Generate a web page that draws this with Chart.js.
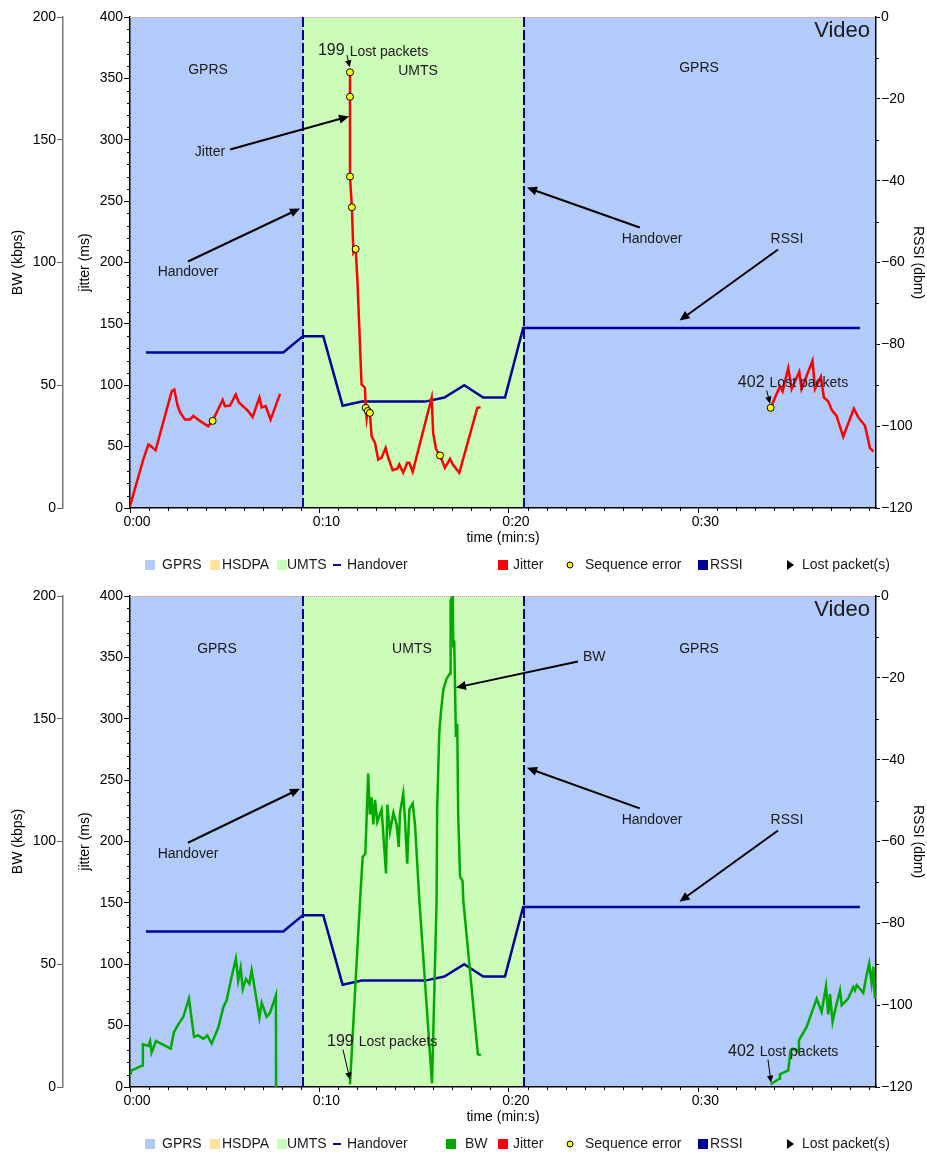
<!DOCTYPE html>
<html><head><meta charset="utf-8">
<script src="https://cdn.jsdelivr.net/npm/chart.js@4.4.1/dist/chart.umd.min.js"></script>
<style>html,body{margin:0;padding:0;background:#fff;}canvas{display:block;}</style>
</head><body>
<canvas id="topChart" width="927" height="579"></canvas>
<canvas id="bottomChart" width="927" height="578"></canvas>
<script>
// ---------------- DATA ----------------
const xTickValues = [0, 10, 20, 30];
const xTickLabels = ['0:00', '0:10', '0:20', '0:30'];
const timeMax = 39.37;

const regionStart = [0, 9.13, 20.79];
const regionEnd = [9.13, 20.79, 39.37];
const regionType = ['GPRS', 'UMTS', 'GPRS'];
const handoverTimes = [9.13, 20.79];

const rssiTime = [0.84, 8.09, 9.13, 10.2, 11.22, 12.23, 15.57, 16.59, 17.64, 18.64, 19.79, 20.75, 38.52];
const rssiDbm  = [-82, -82, -78, -78, -95, -94, -94, -93, -90, -93, -93, -76, -76];

const jitterTime = [0.0, 0.7, 0.97, 1.14, 1.35, 2.2, 2.34, 2.5, 2.64, 2.9, 3.17, 3.34, 3.69, 4.13, 4.36, 4.89, 5.01, 5.28, 5.58, 5.75, 6.24, 6.47, 6.83, 6.95, 7.16, 7.42, 7.92,
  9.0,
  11.61, 11.61, 11.61, 11.71, 11.79, 11.91, 12.0, 12.14, 12.22, 12.4, 12.44, 12.49, 12.55, 12.66, 12.75, 12.93, 13.1, 13.28, 13.49, 13.63, 13.86, 14.11, 14.21, 14.42, 14.63, 14.74, 14.92, 15.92, 16.0, 16.15, 16.36, 16.62, 16.89, 17.03, 17.38, 18.33, 18.5,
  25.0,
  33.81, 34.3, 34.44, 34.74, 34.92, 35.32, 35.44, 36.02, 36.15, 36.46, 36.62, 36.85, 37.03, 37.29, 37.64, 38.2, 38.43, 38.79, 39.05, 39.23];
const jitterMs = [1.5, 39.5, 51.7, 50, 47, 95, 96.5, 84, 78, 72, 72, 75, 71, 66.6, 71, 88, 83, 83.5, 92.5, 86, 79, 74, 90, 82, 83, 72, 93,
  null,
  355, 335, 270, 245, 208, 211, 186, 132, 100.6, 98, 81.6, 73, 80, 77.5, 58.5, 53, 39.5, 41, 49, 41, 30.8, 32, 35.4, 28.7, 36.8, 36.8, 29.5, 89.8, 61, 48, 42.8, 32.7, 40, 35.6, 28.7, 81.6, 82,
  null,
  81.6, 99, 95, 114, 97, 111, 97, 120, 97, 107, 90, 87, 80, 75, 58, 81, 74, 67, 49, 46];

const seqErrTime = [4.36, 11.61, 11.61, 11.61, 11.71, 11.91, 12.44, 12.55, 12.66, 16.36, 33.81];
const seqErrMs   = [71, 355, 335, 270, 245, 211, 81.6, 79, 77.5, 42.8, 81.6];

const bwTime = [0, 0.09, 0.67, 0.68, 0.97, 1.06, 1.14, 1.37, 2.15, 2.32, 2.55, 2.81, 3.11, 3.38, 3.6, 3.87, 4.08, 4.31, 4.66, 4.93, 5.1, 5.36, 5.59, 5.71, 5.84, 5.95, 6.12, 6.3, 6.42, 6.54, 6.83, 6.95, 7.21, 7.39, 7.7, 7.71,
  9.5,
  11.61, 12.14, 12.28, 12.42, 12.57, 12.66, 12.75, 12.84, 12.93, 13.05, 13.28, 13.51, 13.58, 13.72, 13.9, 14.07, 14.18, 14.25, 14.42, 14.51, 14.63, 14.74, 14.92, 15.04, 15.27, 15.94, 16.18, 16.21, 16.32, 16.4, 16.53, 16.71, 16.89, 16.92, 17.03, 17.06, 17.11, 17.2, 17.27, 17.32, 17.42, 17.55, 17.59, 18.36, 18.52,
  25.0,
  33.81, 34.27, 34.3, 34.74, 34.86, 35.0, 35.27, 35.3, 35.71, 36.24, 36.5, 36.73, 36.85, 36.94, 37.08, 37.2, 37.47, 37.56, 37.9, 38.17, 38.26, 38.35, 38.52, 38.7, 38.82, 39.01, 39.14, 39.23, 39.31];
const bwKbps = [4.8, 6.8, 8.8, 17.4, 16.7, 18.7, 14, 18.7, 15.6, 22.4, 25.5, 28.5, 36, 20.4, 21, 19.6, 21, 17.7, 24.2, 32.6, 35.3, 44.8, 52.3, 43.3, 48.5, 39.9, 44, 42, 47.5, 42, 28.3, 34.3, 28.6, 30.2, 37.4, 0,
  null,
  1, 76, 93.7, 95, 127.7, 111, 118, 107, 117, 108, 113, 87, 115, 104, 111.7, 107, 97.8, 111.7, 119.5, 109, 91, 113, 115.5, 107, 76, 1.5, 76, 112.7, 144, 152, 161.6, 166.4, 168.4, 198.3, 200, 179, 182, 142.6, 148, 111, 85.6, 84, 76, 13.3, 13,
  null,
  1.1, 3.4, 5.2, 6.8, 15, 15.6, 14.5, 19, 24.5, 36, 30.6, 41, 29.6, 37.8, 26.5, 30.9, 39.4, 33.3, 36, 40.7, 39.4, 41.5, 40, 38.3, 43.5, 50.3, 42.2, 49, 36];

const lostCounts = ['199', '402'];

// ---------------- STYLE ----------------
const COL = {
  GPRS: '#b2cbfb', HSDPA: '#fde49a', UMTS: '#ccfdb8',
  navy: '#00009a', red: '#ff0000', green: '#00aa00', yellow: '#ffff00', text: '#1a1a1a'
};
const FONT = '"Liberation Sans", Arial, Helvetica, sans-serif';

function pts(xs, ys) { return xs.map((x, i) => ({ x: x, y: ys[i] })); }

// annotations (positions given in time / jitter-axis units)
const topAnn = {
  regionLabels: [{ t: 4.12, v: 357, text: 'GPRS' }, { t: 15.2, v: 356, text: 'UMTS' }, { t: 30.03, v: 358, text: 'GPRS' }],
  notes: [
    { text: 'Jitter', t: 4.22, v: 289.6, from: [5.28, 292], to: [11.56, 319] },
    { text: 'Handover', t: 3.06, v: 191.8, from: [3.06, 200.8], to: [8.97, 244] },
    { text: 'Handover', t: 27.55, v: 218.7, from: [26.9, 228.5], to: [20.95, 261] },
    { text: 'RSSI', t: 34.67, v: 218.7, from: [34.2, 210.6], to: [29.0, 152.7] }
  ],
  lost: [
    { count: lostCounts[0], t: 9.92, v: 372.5, from: [11.45, 369], to: [11.6, 359] },
    { count: lostCounts[1], t: 32.08, v: 102.2, from: [33.6, 95.7], to: [33.78, 85] }
  ]
};
const botAnn = {
  regionLabels: [{ t: 4.59, v: 356.4, text: 'GPRS' }, { t: 14.88, v: 356.4, text: 'UMTS' }, { t: 30.03, v: 356.4, text: 'GPRS' }],
  notes: [
    { text: 'BW', t: 24.5, v: 350, from: [23.64, 346.6], to: [17.2, 325.4] },
    { text: 'Handover', t: 3.06, v: 190, from: [3.06, 199], to: [8.97, 243] },
    { text: 'Handover', t: 27.55, v: 217, from: [26.9, 227], to: [20.95, 260] },
    { text: 'RSSI', t: 34.67, v: 217, from: [34.2, 209], to: [29.0, 151] }
  ],
  lost: [
    { count: lostCounts[0], t: 10.4, v: 37, from: [11.24, 30.5], to: [11.61, 6] },
    { count: lostCounts[1], t: 31.56, v: 29, from: [33.67, 22.4], to: [33.83, 3.5] }
  ]
};

const legendTop = [
  { kind: 'box', color: COL.GPRS, bx: 145, tx: 162, label: 'GPRS' },
  { kind: 'box', color: COL.HSDPA, bx: 210, tx: 222, label: 'HSDPA' },
  { kind: 'box', color: COL.UMTS, bx: 277, tx: 287, label: 'UMTS' },
  { kind: 'dash', color: COL.navy, bx: 333, tx: 347, label: 'Handover' },
  { kind: 'box', color: COL.red, bx: 498, tx: 513, label: 'Jitter' },
  { kind: 'dot', color: COL.yellow, bx: 570, tx: 585, label: 'Sequence error' },
  { kind: 'box', color: COL.navy, bx: 698, tx: 710, label: 'RSSI' },
  { kind: 'tri', color: '#000', bx: 787, tx: 802, label: 'Lost packet(s)' }
];
const legendBottom = legendTop.slice(0, 4).concat([{ kind: 'box', color: COL.green, bx: 446, tx: 465, label: 'BW' }]).concat(legendTop.slice(4));

function arrow(ctx, x1, y1, x2, y2, lw, head) {
  const a = Math.atan2(y2 - y1, x2 - x1);
  ctx.save();
  ctx.strokeStyle = '#000'; ctx.fillStyle = '#000'; ctx.lineWidth = lw;
  ctx.beginPath();
  ctx.moveTo(x1, y1);
  ctx.lineTo(x2 - Math.cos(a) * head * 0.7, y2 - Math.sin(a) * head * 0.7);
  ctx.stroke();
  ctx.beginPath();
  ctx.moveTo(x2, y2);
  ctx.lineTo(x2 - head * Math.cos(a) + head * 0.45 * Math.sin(a), y2 - head * Math.sin(a) - head * 0.45 * Math.cos(a));
  ctx.lineTo(x2 - head * Math.cos(a) - head * 0.45 * Math.sin(a), y2 - head * Math.sin(a) + head * 0.45 * Math.cos(a));
  ctx.closePath(); ctx.fill();
  ctx.restore();
}

function makePlugin(ann, legend) {
  return {
    id: 'deco',
    beforeDraw(chart) {
      const { ctx, chartArea: ca, scales: { x } } = chart;
      ctx.save();
      for (let i = 0; i < regionStart.length; i++) {
        const x1 = x.getPixelForValue(regionStart[i]), x2 = x.getPixelForValue(regionEnd[i]);
        ctx.fillStyle = COL[regionType[i]];
        ctx.fillRect(x1, ca.top, x2 - x1, ca.bottom - ca.top);
      }
      ctx.restore();
    },
    beforeDatasetsDraw(chart) {
      const { ctx, chartArea: ca, scales: { x, jitter, rssi } } = chart;
      ctx.save();
      // dotted top line
      ctx.strokeStyle = '#c4a0a0'; ctx.lineWidth = 1; ctx.setLineDash([1, 1]);
      ctx.beginPath(); ctx.moveTo(ca.left, ca.top + 0.5); ctx.lineTo(ca.right, ca.top + 0.5); ctx.stroke();
      // handovers
      ctx.strokeStyle = COL.navy; ctx.lineWidth = 2; ctx.setLineDash([10, 3]);
      handoverTimes.forEach(t => {
        const px = Math.round(x.getPixelForValue(t));
        ctx.beginPath(); ctx.moveTo(px, ca.top); ctx.lineTo(px, ca.bottom); ctx.stroke();
      });
      ctx.setLineDash([]);
      // minor ticks
      ctx.strokeStyle = '#000'; ctx.lineWidth = 1;
      ctx.beginPath();
      for (let s = 1; s < timeMax; s++) {
        if (s % 10 === 0) continue;
        const px = Math.round(x.getPixelForValue(s)) + 0.5;
        ctx.moveTo(px, ca.bottom); ctx.lineTo(px, ca.bottom + 3);
      }
      for (let v = 10; v < 400; v += 10) {
        if (v % 50 === 0) continue;
        const py = Math.round(jitter.getPixelForValue(v)) + 0.5;
        ctx.moveTo(ca.left, py); ctx.lineTo(ca.left - 3, py);
      }
      for (let v = -110; v < 0; v += 20) {
        const py = Math.round(rssi.getPixelForValue(v)) + 0.5;
        ctx.moveTo(ca.right, py); ctx.lineTo(ca.right + 3, py);
      }
      ctx.stroke();
      ctx.restore();
    },
    afterDatasetsDraw(chart) {
      const { ctx, chartArea: ca, scales: { x, jitter } } = chart;
      const P = (t, v) => [x.getPixelForValue(t), jitter.getPixelForValue(v)];
      ctx.save();
      ctx.fillStyle = COL.text;
      ctx.textBaseline = 'middle';
      ctx.font = '14px ' + FONT;
      ctx.textAlign = 'center';
      ann.regionLabels.forEach(r => { const p = P(r.t, r.v); ctx.fillText(r.text, p[0], p[1]); });
      ann.notes.forEach(n => {
        const p = P(n.t, n.v);
        ctx.fillText(n.text, p[0], p[1]);
        const a = P(n.from[0], n.from[1]), b = P(n.to[0], n.to[1]);
        arrow(ctx, a[0], a[1], b[0], b[1], 2, 10);
      });
      ann.lost.forEach(l => {
        const p = P(l.t, l.v);
        ctx.textAlign = 'left';
        ctx.font = '16px ' + FONT;
        ctx.fillText(l.count, p[0], p[1]);
        const w = ctx.measureText(l.count).width;
        ctx.font = '14px ' + FONT;
        ctx.fillText('Lost packets', p[0] + w + 5, p[1] + 1);
        const a = P(l.from[0], l.from[1]), b = P(l.to[0], l.to[1]);
        arrow(ctx, a[0], a[1], b[0], b[1], 1, 7);
      });
      ctx.font = '22px ' + FONT;
      ctx.textAlign = 'right';
      ctx.fillText('Video', ca.right - 6, ca.top + 14);
      ctx.restore();
    },
    afterDraw(chart) {
      const ctx = chart.ctx;
      const y = 565;
      ctx.save();
      ctx.font = '14px ' + FONT;
      ctx.textBaseline = 'middle';
      ctx.textAlign = 'left';
      legend.forEach(it => {
        if (it.kind === 'box') {
          ctx.fillStyle = it.color; ctx.fillRect(it.bx, y - 5, 10, 10);
        } else if (it.kind === 'dash') {
          ctx.strokeStyle = it.color; ctx.lineWidth = 2;
          ctx.beginPath(); ctx.moveTo(it.bx, y); ctx.lineTo(it.bx + 8, y); ctx.stroke();
        } else if (it.kind === 'dot') {
          ctx.fillStyle = it.color; ctx.strokeStyle = '#000'; ctx.lineWidth = 1;
          ctx.beginPath(); ctx.arc(it.bx, y, 3, 0, Math.PI * 2); ctx.fill(); ctx.stroke();
        } else if (it.kind === 'tri') {
          ctx.fillStyle = '#000';
          ctx.beginPath(); ctx.moveTo(it.bx, y - 5); ctx.lineTo(it.bx + 7, y); ctx.lineTo(it.bx, y + 5); ctx.closePath(); ctx.fill();
        }
        ctx.fillStyle = COL.text;
        ctx.fillText(it.label, it.tx, y);
      });
      ctx.restore();
    }
  };
}

function scalesCfg() {
  const tickFont = { family: FONT, size: 14 };
  return {
    x: {
      type: 'linear', position: 'bottom', min: 0, max: timeMax,
      afterBuildTicks: s => { s.ticks = xTickValues.map(v => ({ value: v })); },
      afterFit: s => { s.height = 40; },
      ticks: { font: tickFont, color: '#000', padding: 1, maxRotation: 0, labelOffset: 7,
        callback: v => xTickLabels[xTickValues.indexOf(v)] },
      grid: { drawOnChartArea: false, tickLength: 5, color: '#000' },
      border: { color: '#000', width: 1.5 },
      title: { display: true, text: 'time (min:s)', font: tickFont, color: '#000', padding: { top: 0, bottom: 1 } }
    },
    bw: {
      type: 'linear', position: 'left', min: 0, max: 200, weight: 2,
      afterFit: s => { s.width = 63; },
      ticks: { stepSize: 50, font: tickFont, color: '#000', padding: 1 },
      grid: { drawOnChartArea: false, tickLength: 6, color: '#666' },
      border: { color: '#777', width: 1.5 },
      title: { display: true, text: 'BW (kbps)', font: tickFont, color: '#000', padding: { top: 10, bottom: 0 } }
    },
    jitter: {
      type: 'linear', position: 'left', min: 0, max: 400, weight: 1,
      afterFit: s => { s.width = 67; },
      ticks: { stepSize: 50, font: tickFont, color: '#000', padding: 1 },
      grid: { drawOnChartArea: false, tickLength: 6, color: '#000' },
      border: { color: '#000', width: 1.5 },
      title: { display: true, text: 'jitter (ms)', font: tickFont, color: '#000', padding: { top: 14, bottom: 0 } }
    },
    rssi: {
      type: 'linear', position: 'right', min: -120, max: 0,
      afterFit: s => { s.width = 51; },
      ticks: { stepSize: 20, font: tickFont, color: '#000', padding: 1,
        callback: v => (v === 0 ? '0' : '\u2212' + Math.abs(v)) },
      grid: { drawOnChartArea: false, tickLength: 4, color: '#000' },
      border: { color: '#000', width: 1.5 },
      title: { display: true, text: 'RSSI (dbm)', font: tickFont, color: '#000', padding: { top: 1, bottom: 0 } }
    }
  };
}

const lineBase = { pointRadius: 0, borderWidth: 2.5, tension: 0, spanGaps: false, fill: false };

Chart.defaults.font.family = FONT;

new Chart(document.getElementById('topChart'), {
  type: 'line',
  data: {
    datasets: [
      Object.assign({ label: 'Sequence error', data: pts(seqErrTime, seqErrMs), yAxisID: 'jitter', showLine: false,
        pointRadius: 3.5, pointBackgroundColor: COL.yellow, pointBorderColor: '#000', pointBorderWidth: 1, order: 0 }),
      Object.assign({}, lineBase, { label: 'Jitter', data: pts(jitterTime, jitterMs), yAxisID: 'jitter', borderColor: COL.red, order: 1 }),
      Object.assign({}, lineBase, { label: 'RSSI', data: pts(rssiTime, rssiDbm), yAxisID: 'rssi', borderColor: COL.navy, order: 2 })
    ]
  },
  options: {
    responsive: false, animation: false, devicePixelRatio: 1,
    layout: { padding: { top: 17, bottom: 31, left: 0, right: 0 } },
    plugins: { legend: { display: false }, tooltip: { enabled: false } },
    scales: scalesCfg()
  },
  plugins: [makePlugin(topAnn, legendTop)]
});

new Chart(document.getElementById('bottomChart'), {
  type: 'line',
  data: {
    datasets: [
      Object.assign({}, lineBase, { label: 'BW', data: pts(bwTime, bwKbps), yAxisID: 'bw', borderColor: COL.green, order: 1 }),
      Object.assign({}, lineBase, { label: 'RSSI', data: pts(rssiTime, rssiDbm), yAxisID: 'rssi', borderColor: COL.navy, order: 2 })
    ]
  },
  options: {
    responsive: false, animation: false, devicePixelRatio: 1,
    layout: { padding: { top: 17, bottom: 30, left: 0, right: 0 } },
    plugins: { legend: { display: false }, tooltip: { enabled: false } },
    scales: scalesCfg()
  },
  plugins: [makePlugin(botAnn, legendBottom)]
});
</script>
</body></html>
